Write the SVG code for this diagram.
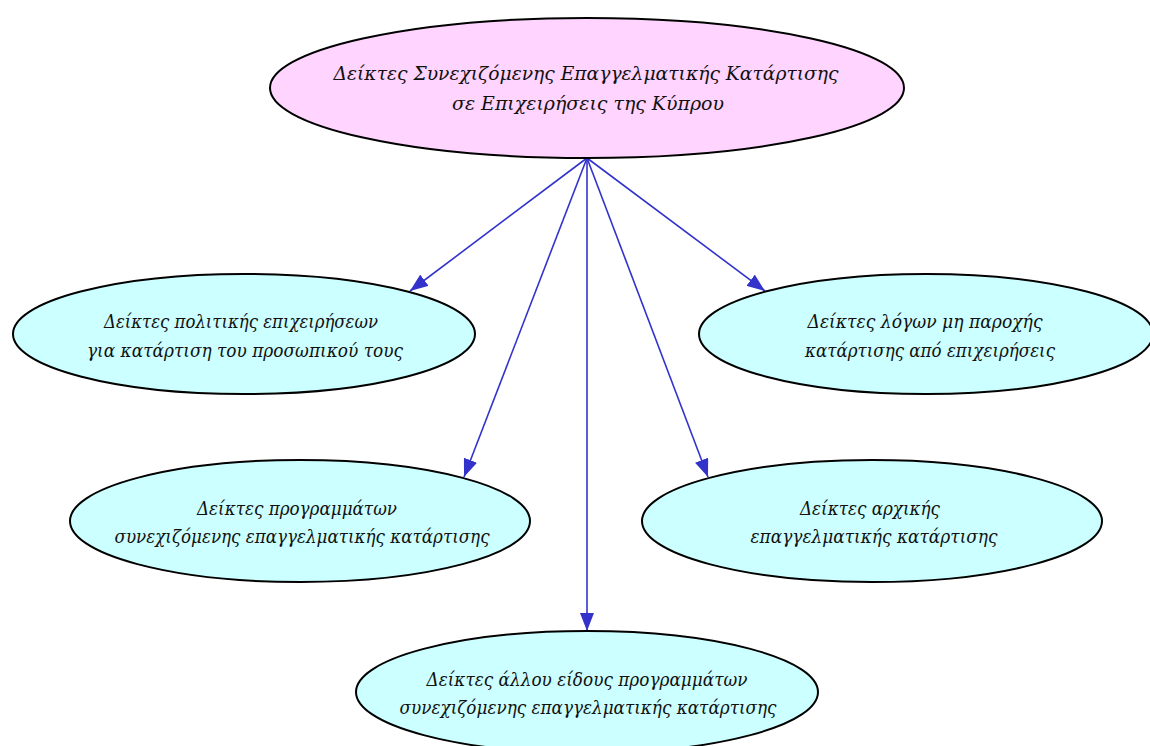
<svg xmlns="http://www.w3.org/2000/svg" width="1150" height="746" viewBox="0 0 1150 746">
<defs>
<style>
.n{stroke:#000;stroke-width:2}
.root{fill:#FFD4FF}
.leaf{fill:#CCFFFF}
.t{font-family:"DejaVu Serif","Liberation Serif",serif;font-style:italic;font-size:19px;fill:#111;text-anchor:middle}
.e{stroke:#3333CC;stroke-width:1.6;fill:none;marker-end:url(#ah)}
</style>
<marker id="ah" markerUnits="userSpaceOnUse" markerWidth="20" markerHeight="14" refX="18" refY="7" orient="auto">
<path d="M0,0 L18,7 L0,14 z" fill="#3333CC"/>
</marker>
</defs>
<rect width="1150" height="746" fill="#fff"/>
<g id="edges">
<line class="e" x1="587" y1="158" x2="410" y2="291"/>
<line class="e" x1="587" y1="158" x2="464" y2="477"/>
<line class="e" x1="587" y1="158" x2="587" y2="631"/>
<line class="e" x1="587" y1="158" x2="708" y2="477"/>
<line class="e" x1="587" y1="158" x2="765" y2="291"/>
</g>
<g id="root">
<ellipse class="n root" cx="587" cy="88" rx="317" ry="70"/>
<text class="t" x="586" y="80" textLength="505" lengthAdjust="spacingAndGlyphs">Δείκτες Συνεχιζόμενης Επαγγελματικής Κατάρτισης</text>
<text class="t" x="588" y="110" textLength="272" lengthAdjust="spacingAndGlyphs">σε Επιχειρήσεις της Κύπρου</text>
</g>
<g id="n1">
<ellipse class="n leaf" cx="244" cy="334" rx="231" ry="60"/>
<text class="t" x="241" y="328" textLength="274" lengthAdjust="spacingAndGlyphs">Δείκτες πολιτικής επιχειρήσεων</text>
<text class="t" x="245" y="357" textLength="316" lengthAdjust="spacingAndGlyphs">για κατάρτιση του προσωπικού τους</text>
</g>
<g id="n2">
<ellipse class="n leaf" cx="926" cy="334" rx="227" ry="60"/>
<text class="t" x="925" y="328" textLength="235" lengthAdjust="spacingAndGlyphs">Δείκτες λόγων μη παροχής</text>
<text class="t" x="930" y="357" textLength="250" lengthAdjust="spacingAndGlyphs">κατάρτισης από επιχειρήσεις</text>
</g>
<g id="n3">
<ellipse class="n leaf" cx="300" cy="521" rx="230" ry="61"/>
<text class="t" x="297" y="515" textLength="200" lengthAdjust="spacingAndGlyphs">Δείκτες προγραμμάτων</text>
<text class="t" x="302" y="543" textLength="375" lengthAdjust="spacingAndGlyphs">συνεχιζόμενης επαγγελματικής κατάρτισης</text>
</g>
<g id="n4">
<ellipse class="n leaf" cx="872" cy="521" rx="230" ry="61"/>
<text class="t" x="870" y="515" textLength="140" lengthAdjust="spacingAndGlyphs">Δείκτες αρχικής</text>
<text class="t" x="874" y="543" textLength="247" lengthAdjust="spacingAndGlyphs">επαγγελματικής κατάρτισης</text>
</g>
<g id="n5">
<ellipse class="n leaf" cx="587" cy="692" rx="231" ry="61"/>
<text class="t" x="587" y="686" textLength="321" lengthAdjust="spacingAndGlyphs">Δείκτες άλλου είδους προγραμμάτων</text>
<text class="t" x="588" y="714" textLength="377" lengthAdjust="spacingAndGlyphs">συνεχιζόμενης επαγγελματικής κατάρτισης</text>
</g>
</svg>
